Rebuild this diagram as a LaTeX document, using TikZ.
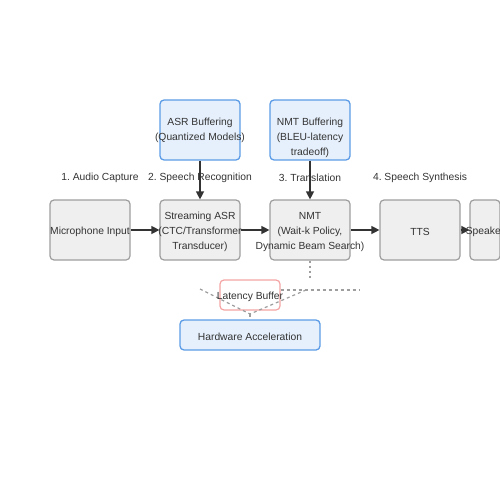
\documentclass[tikz,border=0pt]{standalone}
\usepackage{fontspec}
\setmainfont{Liberation Sans}
\usetikzlibrary{arrows.meta}
\definecolor{boxgray}{HTML}{EFEFEF}
\definecolor{edgegray}{HTML}{9E9E9E}
\definecolor{bufblue}{HTML}{E6F0FC}
\definecolor{edgeblue}{HTML}{5C9CE6}
\definecolor{latred}{HTML}{F4A4A4}
\definecolor{inkgray}{HTML}{333333}
\frenchspacing

\begin{document}
\begin{tikzpicture}[x=1pt, y=-1pt,
		font=\fontsize{10.3}{15}\selectfont,
		stagebox/.style={draw=edgegray, fill=boxgray, line width=1.2pt, rounded corners=4pt, minimum width=80pt, minimum height=60pt, inner sep=0pt},
		bufbox/.style={draw=edgeblue, fill=bufblue, line width=1.3pt, rounded corners=4pt, inner sep=0pt},
		boxtext/.style={text=inkgray, align=center, inner sep=0pt, yshift=-1.8pt},
		flow/.style={draw=inkgray, line width=1.3pt, -{Triangle[length=8pt, width=8pt]}},
		guide/.style={draw=edgegray, line width=1.2pt, dash pattern=on 3pt off 3pt}]
			\useasboundingbox (0,0) rectangle (500,500);
			
			% Pipeline stages
			\node[stagebox] (mic) at (90,230) {};
			\node[stagebox] (asr) at (200,230) {};
			\node[stagebox] (nmt) at (310,230) {};
			\node[stagebox] (tts) at (420,230) {};
			\node[stagebox, minimum width=30pt] (spk) at (485,230) {};
			\node[boxtext] (mic-text) at (mic) {Microphone Input};
			\node[boxtext] (asr-text) at (asr) {Streaming ASR\\(CTC/Transformer\\Transducer)};
			\node[boxtext] (nmt-text) at (nmt) {NMT\\(Wait-k Policy,\\Dynamic Beam Search)};
			\node[boxtext] (tts-text) at (tts) {TTS};
			\node[boxtext] (spk-text) at (spk) {Speaker};
			
			% Stage titles
			\node[boxtext] (stage1) at (100,176) {1. Audio Capture};
			\node[boxtext] (stage2) at (200,176) {2. Speech Recognition};
			\node[boxtext] (stage3) at (310,176) {3. Translation};
			\node[boxtext] (stage4) at (420,176) {4. Speech Synthesis};
			
			% Buffers
			\node[bufbox, minimum width=80pt, minimum height=60pt] (asrbuf) at (200,130) {};
			\node[bufbox, minimum width=80pt, minimum height=60pt] (nmtbuf) at (310,130) {};
			\node[boxtext] (asrbuf-text) at (200,128.5) {ASR Buffering\\(Quantized Models)};
			\node[boxtext] (nmtbuf-text) at (310,136) {NMT Buffering\\(BLEU-latency\\tradeoff)};
			
			% Main flow
			\draw[flow] (mic) -- (asr);
			\draw[flow] (asr) -- (nmt);
			\draw[flow] (nmt) -- (tts);
			\draw[flow] (tts) -- (spk);
			\draw[flow] (asrbuf) -- (asr);
			\draw[flow] (nmtbuf) -- (nmt);
			
			% Latency and hardware
			\node[draw=latred, fill=white, line width=1.2pt, rounded corners=4pt, minimum width=60pt, minimum height=30pt] (latbuf) at (250,295) {};
			\node[bufbox, minimum width=140pt, minimum height=30pt] (hwacc) at (250,335) {};
			\coordinate (nmtdrop) at (310,280);
			\coordinate (leftend) at (200,289);
			\coordinate (rightend) at (360,290);
			\coordinate (meet) at (250,314);
			\coordinate (bendr) at (306,290);
			\draw[guide, dash pattern=on 2pt off 3pt] (nmt) -- (nmtdrop);
			\draw[guide] (latbuf.east |- rightend) -- (rightend);
			\draw[guide] (leftend) -- (meet) -- (bendr);
			\draw[guide] (meet) -- (hwacc);
			\node[boxtext] (latbuf-text) at (latbuf) {Latency Buffer};
			\node[boxtext] (hwacc-text) at (hwacc) {Hardware Acceleration};
		\end{tikzpicture}
\end{document}
